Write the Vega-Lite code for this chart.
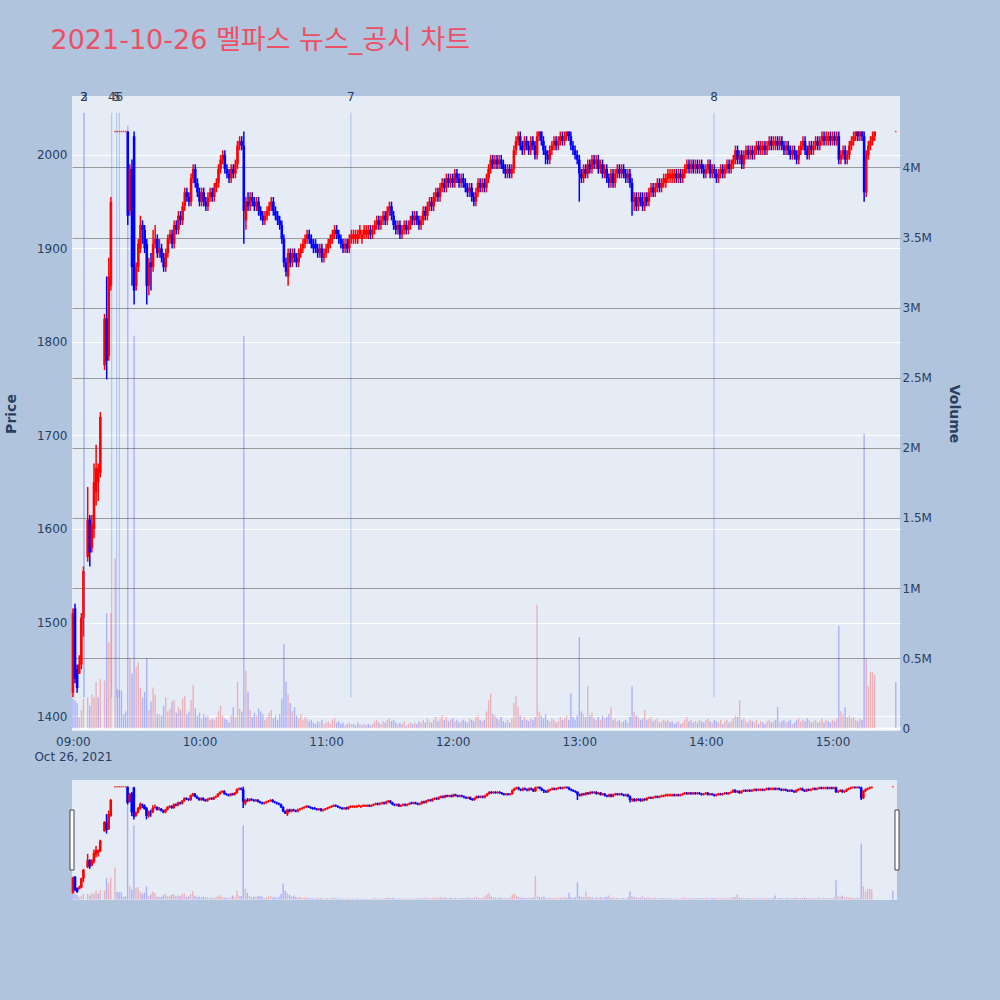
{
  "$schema": "https://vega.github.io/schema/vega-lite/v6.json",
  "background": "#B0C4DE",
  "padding": {"left": 4, "top": 26, "right": 45, "bottom": 102},
  "title": {"text": "2021-10-26 멜파스 뉴스_공시 차트", "anchor": "start", "frame": "bounds", "dx": 46, "fontSize": 27, "font": "DejaVu Sans, Noto Sans CJK KR", "fontWeight": "normal", "color": "#EC5064", "baseline": "alphabetic", "offset": 15},
  "config": {
    "view": {"fill": "#E5ECF6", "stroke": null},
    "font": "DejaVu Sans",
    "axis": {"labelColor": "#2a3f5f", "titleColor": "#2a3f5f", "labelFontSize": 12, "labelFont": "DejaVu Sans", "titleFont": "DejaVu Sans", "domain": false, "ticks": false}
  },
  "data": {
    "values": "t,o,h,l,c,v\n2021-10-26 09:00,1425,1515,1420,1510,210000\n2021-10-26 09:01,1515,1520,1435,1440,200000\n2021-10-26 09:02,1450,1455,1425,1430,180000\n2021-10-26 09:03,1445,1465,1445,1455,80000\n2021-10-26 09:04,1455,1510,1450,1505,130000\n2021-10-26 09:05,1505,1560,1485,1555,210000\n2021-10-26 09:07,1570,1645,1565,1610,220000\n2021-10-26 09:08,1610,1615,1560,1575,160000\n2021-10-26 09:09,1580,1615,1575,1605,240000\n2021-10-26 09:10,1600,1670,1590,1650,220000\n2021-10-26 09:11,1640,1690,1625,1665,330000\n2021-10-26 09:12,1650,1670,1630,1665,220000\n2021-10-26 09:13,1660,1725,1655,1720,350000\n2021-10-26 09:15,1775,1830,1770,1825,340000\n2021-10-26 09:16,1825,1870,1760,1780,820000\n2021-10-26 09:17,1785,1890,1780,1870,610000\n2021-10-26 09:18,1860,1955,1855,1950,820000\n2021-10-26 09:20,2025,2025,2025,2025,1210000\n2021-10-26 09:21,2025,2025,2025,2025,280000\n2021-10-26 09:22,2025,2025,2025,2025,270000\n2021-10-26 09:23,2025,2025,2025,2025,270000\n2021-10-26 09:24,2025,2025,2025,2025,100000\n2021-10-26 09:25,2025,2025,2025,2025,120000\n2021-10-26 09:26,2025,2025,1925,1935,4300000\n2021-10-26 09:27,1940,1990,1935,1985,500000\n2021-10-26 09:28,1985,1995,1860,1880,390000\n2021-10-26 09:29,2020,2025,1840,1855,2800000\n2021-10-26 09:30,1860,1885,1855,1880,440000\n2021-10-26 09:31,1880,1910,1875,1905,470000\n2021-10-26 09:32,1900,1935,1895,1925,290000\n2021-10-26 09:33,1925,1930,1905,1920,220000\n2021-10-26 09:34,1920,1925,1895,1900,260000\n2021-10-26 09:35,1905,1910,1840,1860,500000\n2021-10-26 09:36,1860,1890,1850,1885,130000\n2021-10-26 09:37,1885,1895,1855,1880,190000\n2021-10-26 09:38,1880,1920,1875,1905,290000\n2021-10-26 09:39,1905,1925,1900,1910,240000\n2021-10-26 09:40,1910,1915,1890,1895,100000\n2021-10-26 09:41,1895,1910,1890,1900,100000\n2021-10-26 09:42,1900,1905,1885,1890,90000\n2021-10-26 09:43,1890,1895,1875,1880,160000\n2021-10-26 09:44,1880,1900,1875,1895,220000\n2021-10-26 09:45,1895,1915,1890,1910,120000\n2021-10-26 09:46,1910,1920,1905,1915,140000\n2021-10-26 09:47,1915,1920,1900,1905,190000\n2021-10-26 09:48,1905,1930,1900,1925,200000\n2021-10-26 09:49,1925,1930,1915,1920,110000\n2021-10-26 09:50,1920,1940,1915,1935,150000\n2021-10-26 09:51,1935,1940,1925,1930,130000\n2021-10-26 09:52,1930,1950,1925,1945,210000\n2021-10-26 09:53,1945,1965,1940,1960,230000\n2021-10-26 09:54,1960,1965,1950,1955,100000\n2021-10-26 09:55,1955,1960,1945,1950,120000\n2021-10-26 09:56,1950,1980,1945,1975,200000\n2021-10-26 09:57,1975,1990,1970,1985,310000\n2021-10-26 09:58,1985,1990,1965,1970,140000\n2021-10-26 09:59,1970,1975,1955,1960,90000\n2021-10-26 10:00,1960,1965,1945,1950,110000\n2021-10-26 10:01,1950,1965,1945,1960,70000\n2021-10-26 10:02,1960,1965,1945,1950,100000\n2021-10-26 10:03,1950,1955,1940,1945,80000\n2021-10-26 10:04,1945,1960,1940,1955,90000\n2021-10-26 10:05,1955,1965,1950,1960,60000\n2021-10-26 10:06,1960,1965,1950,1955,70000\n2021-10-26 10:07,1955,1970,1950,1965,60000\n2021-10-26 10:08,1965,1975,1960,1970,80000\n2021-10-26 10:09,1970,1990,1965,1985,120000\n2021-10-26 10:10,1985,2000,1980,1995,160000\n2021-10-26 10:11,1995,2005,1990,2000,90000\n2021-10-26 10:12,2000,2005,1980,1985,70000\n2021-10-26 10:13,1985,1990,1975,1980,60000\n2021-10-26 10:14,1980,1985,1970,1975,40000\n2021-10-26 10:15,1975,1990,1970,1985,90000\n2021-10-26 10:16,1985,1990,1975,1980,150000\n2021-10-26 10:17,1980,1995,1975,1990,80000\n2021-10-26 10:18,1990,2015,1985,2010,330000\n2021-10-26 10:19,2010,2020,2005,2015,140000\n2021-10-26 10:20,2015,2020,2005,2010,120000\n2021-10-26 10:21,2010,2025,1905,1940,2800000\n2021-10-26 10:22,1930,1955,1920,1950,410000\n2021-10-26 10:23,1950,1960,1940,1945,260000\n2021-10-26 10:24,1945,1960,1940,1955,130000\n2021-10-26 10:25,1955,1960,1945,1950,80000\n2021-10-26 10:26,1950,1955,1940,1945,110000\n2021-10-26 10:27,1945,1955,1940,1950,90000\n2021-10-26 10:28,1950,1955,1935,1940,140000\n2021-10-26 10:29,1940,1945,1930,1935,120000\n2021-10-26 10:30,1935,1940,1925,1930,100000\n2021-10-26 10:31,1930,1940,1925,1935,60000\n2021-10-26 10:32,1935,1945,1930,1940,80000\n2021-10-26 10:33,1940,1950,1935,1945,110000\n2021-10-26 10:34,1945,1955,1940,1950,130000\n2021-10-26 10:35,1950,1955,1935,1940,70000\n2021-10-26 10:36,1940,1945,1930,1935,90000\n2021-10-26 10:37,1935,1940,1925,1930,60000\n2021-10-26 10:38,1930,1935,1920,1925,100000\n2021-10-26 10:39,1925,1930,1905,1910,210000\n2021-10-26 10:40,1910,1915,1880,1885,600000\n2021-10-26 10:41,1885,1890,1870,1875,330000\n2021-10-26 10:42,1870,1900,1860,1895,240000\n2021-10-26 10:43,1895,1900,1880,1885,180000\n2021-10-26 10:44,1885,1900,1880,1895,120000\n2021-10-26 10:45,1895,1900,1885,1890,150000\n2021-10-26 10:46,1890,1895,1880,1885,90000\n2021-10-26 10:47,1885,1900,1880,1895,70000\n2021-10-26 10:48,1895,1905,1890,1900,100000\n2021-10-26 10:49,1900,1910,1895,1905,60000\n2021-10-26 10:50,1905,1915,1900,1910,80000\n2021-10-26 10:51,1910,1920,1905,1915,70000\n2021-10-26 10:52,1915,1920,1905,1910,50000\n2021-10-26 10:53,1910,1915,1900,1905,60000\n2021-10-26 10:54,1905,1910,1895,1900,40000\n2021-10-26 10:55,1905,1910,1895,1900,30000\n2021-10-26 10:56,1900,1905,1890,1895,50000\n2021-10-26 10:57,1895,1905,1890,1900,40000\n2021-10-26 10:58,1900,1905,1885,1890,60000\n2021-10-26 10:59,1890,1900,1885,1895,30000\n2021-10-26 11:00,1895,1905,1890,1900,40000\n2021-10-26 11:01,1900,1910,1895,1905,50000\n2021-10-26 11:02,1905,1915,1900,1910,30000\n2021-10-26 11:03,1910,1920,1905,1915,60000\n2021-10-26 11:04,1915,1925,1910,1920,70000\n2021-10-26 11:05,1920,1925,1910,1915,40000\n2021-10-26 11:06,1915,1920,1905,1910,50000\n2021-10-26 11:07,1910,1915,1900,1905,30000\n2021-10-26 11:08,1905,1910,1895,1900,40000\n2021-10-26 11:09,1900,1910,1895,1905,20000\n2021-10-26 11:10,1905,1910,1895,1900,30000\n2021-10-26 11:11,1900,1915,1895,1910,40000\n2021-10-26 11:12,1910,1920,1905,1915,30000\n2021-10-26 11:13,1910,1920,1905,1915,30000\n2021-10-26 11:14,1910,1920,1905,1915,20000\n2021-10-26 11:15,1910,1920,1905,1915,40000\n2021-10-26 11:16,1915,1925,1910,1920,30000\n2021-10-26 11:17,1910,1920,1905,1915,20000\n2021-10-26 11:18,1915,1925,1910,1920,30000\n2021-10-26 11:19,1915,1925,1910,1920,20000\n2021-10-26 11:20,1915,1925,1910,1920,30000\n2021-10-26 11:21,1920,1925,1910,1915,20000\n2021-10-26 11:22,1915,1925,1910,1920,30000\n2021-10-26 11:23,1920,1930,1915,1925,50000\n2021-10-26 11:24,1925,1935,1920,1930,60000\n2021-10-26 11:25,1930,1935,1920,1925,40000\n2021-10-26 11:26,1925,1935,1920,1930,30000\n2021-10-26 11:27,1930,1940,1925,1935,50000\n2021-10-26 11:28,1935,1940,1925,1930,40000\n2021-10-26 11:29,1930,1945,1925,1940,60000\n2021-10-26 11:30,1940,1950,1935,1945,70000\n2021-10-26 11:31,1945,1950,1930,1935,50000\n2021-10-26 11:32,1935,1940,1920,1925,60000\n2021-10-26 11:33,1925,1930,1915,1920,40000\n2021-10-26 11:34,1920,1930,1915,1925,30000\n2021-10-26 11:35,1925,1930,1910,1915,40000\n2021-10-26 11:36,1915,1925,1910,1920,30000\n2021-10-26 11:37,1920,1930,1915,1925,50000\n2021-10-26 11:38,1925,1930,1915,1920,20000\n2021-10-26 11:39,1920,1930,1915,1925,30000\n2021-10-26 11:40,1925,1935,1920,1930,40000\n2021-10-26 11:41,1935,1940,1925,1930,30000\n2021-10-26 11:42,1930,1940,1925,1935,40000\n2021-10-26 11:43,1935,1940,1925,1930,30000\n2021-10-26 11:44,1930,1935,1920,1925,50000\n2021-10-26 11:45,1925,1935,1920,1930,40000\n2021-10-26 11:46,1930,1945,1925,1940,60000\n2021-10-26 11:47,1940,1945,1930,1935,40000\n2021-10-26 11:48,1935,1950,1930,1945,70000\n2021-10-26 11:49,1945,1955,1940,1950,50000\n2021-10-26 11:50,1950,1955,1940,1945,40000\n2021-10-26 11:51,1945,1960,1940,1955,60000\n2021-10-26 11:52,1955,1965,1950,1960,80000\n2021-10-26 11:53,1960,1965,1950,1955,50000\n2021-10-26 11:54,1955,1970,1950,1965,70000\n2021-10-26 11:55,1965,1975,1960,1970,90000\n2021-10-26 11:56,1970,1975,1960,1965,60000\n2021-10-26 11:57,1965,1980,1960,1975,80000\n2021-10-26 11:58,1975,1980,1965,1970,50000\n2021-10-26 11:59,1970,1980,1965,1975,60000\n2021-10-26 12:00,1975,1980,1965,1970,70000\n2021-10-26 12:01,1970,1985,1965,1980,50000\n2021-10-26 12:02,1980,1985,1970,1975,60000\n2021-10-26 12:03,1975,1980,1965,1970,40000\n2021-10-26 12:04,1970,1980,1965,1975,50000\n2021-10-26 12:05,1975,1980,1965,1970,60000\n2021-10-26 12:06,1970,1975,1960,1965,50000\n2021-10-26 12:07,1965,1970,1955,1960,40000\n2021-10-26 12:08,1960,1970,1955,1965,70000\n2021-10-26 12:09,1965,1970,1950,1955,60000\n2021-10-26 12:10,1955,1960,1945,1950,50000\n2021-10-26 12:11,1950,1965,1945,1960,80000\n2021-10-26 12:12,1960,1975,1955,1970,90000\n2021-10-26 12:13,1970,1975,1960,1965,60000\n2021-10-26 12:14,1965,1975,1960,1970,50000\n2021-10-26 12:15,1970,1975,1960,1965,60000\n2021-10-26 12:16,1965,1980,1960,1975,120000\n2021-10-26 12:17,1975,1990,1970,1985,200000\n2021-10-26 12:18,1985,2000,1980,1995,250000\n2021-10-26 12:19,1995,2000,1985,1990,100000\n2021-10-26 12:20,1990,2000,1985,1995,90000\n2021-10-26 12:21,1995,2000,1985,1990,70000\n2021-10-26 12:22,1990,2000,1985,1995,60000\n2021-10-26 12:23,1995,2000,1985,1990,80000\n2021-10-26 12:24,1990,1995,1980,1985,50000\n2021-10-26 12:25,1985,1990,1975,1980,40000\n2021-10-26 12:26,1980,1990,1975,1985,60000\n2021-10-26 12:27,1985,1990,1975,1980,40000\n2021-10-26 12:28,1980,1990,1975,1985,70000\n2021-10-26 12:29,1985,2010,1980,2005,180000\n2021-10-26 12:30,2005,2020,2000,2015,230000\n2021-10-26 12:31,2015,2025,2010,2020,150000\n2021-10-26 12:32,2020,2025,2005,2010,90000\n2021-10-26 12:33,2010,2015,2000,2005,60000\n2021-10-26 12:34,2005,2020,2000,2015,80000\n2021-10-26 12:35,2015,2020,2005,2010,60000\n2021-10-26 12:36,2010,2015,2000,2005,50000\n2021-10-26 12:37,2005,2020,2000,2015,70000\n2021-10-26 12:38,2015,2020,2005,2010,60000\n2021-10-26 12:39,2010,2015,1995,2000,80000\n2021-10-26 12:40,2000,2025,1995,2020,880000\n2021-10-26 12:41,2020,2025,2015,2025,120000\n2021-10-26 12:42,2025,2025,2010,2015,90000\n2021-10-26 12:43,2015,2020,2000,2005,70000\n2021-10-26 12:44,2005,2010,1990,2000,100000\n2021-10-26 12:45,2000,2005,1990,1995,60000\n2021-10-26 12:46,1995,2010,1990,2005,50000\n2021-10-26 12:47,2005,2015,2000,2010,70000\n2021-10-26 12:48,2010,2020,2005,2015,60000\n2021-10-26 12:49,2015,2020,2005,2010,40000\n2021-10-26 12:50,2010,2020,2005,2015,50000\n2021-10-26 12:51,2015,2025,2010,2020,80000\n2021-10-26 12:52,2020,2025,2010,2015,60000\n2021-10-26 12:53,2015,2025,2010,2020,70000\n2021-10-26 12:54,2020,2025,2015,2025,90000\n2021-10-26 12:55,2025,2025,2015,2020,60000\n2021-10-26 12:56,2020,2025,2005,2010,250000\n2021-10-26 12:57,2010,2015,2000,2005,80000\n2021-10-26 12:58,2005,2010,1995,2000,60000\n2021-10-26 12:59,2000,2005,1990,1995,90000\n2021-10-26 13:00,1995,2000,1950,1980,650000\n2021-10-26 13:01,1980,1985,1970,1975,120000\n2021-10-26 13:02,1975,1990,1970,1985,100000\n2021-10-26 13:03,1985,1990,1975,1980,80000\n2021-10-26 13:04,1980,1995,1975,1990,300000\n2021-10-26 13:05,1990,1995,1980,1985,90000\n2021-10-26 13:06,1985,2000,1980,1995,110000\n2021-10-26 13:07,1995,2000,1985,1990,70000\n2021-10-26 13:08,1990,2000,1985,1995,60000\n2021-10-26 13:09,1995,2000,1980,1985,80000\n2021-10-26 13:10,1985,1995,1980,1990,60000\n2021-10-26 13:11,1990,1995,1975,1980,90000\n2021-10-26 13:12,1980,1990,1975,1985,70000\n2021-10-26 13:13,1985,1990,1970,1975,80000\n2021-10-26 13:14,1975,1980,1965,1970,100000\n2021-10-26 13:15,1970,1985,1965,1980,150000\n2021-10-26 13:16,1980,1985,1965,1970,60000\n2021-10-26 13:17,1970,1985,1965,1980,70000\n2021-10-26 13:18,1980,1990,1975,1985,50000\n2021-10-26 13:19,1985,1990,1975,1980,60000\n2021-10-26 13:20,1980,1990,1975,1985,40000\n2021-10-26 13:21,1985,1990,1975,1980,50000\n2021-10-26 13:22,1980,1985,1970,1975,60000\n2021-10-26 13:23,1975,1985,1970,1980,40000\n2021-10-26 13:24,1980,1985,1965,1970,80000\n2021-10-26 13:25,1970,1975,1935,1950,300000\n2021-10-26 13:26,1950,1960,1940,1955,120000\n2021-10-26 13:27,1955,1960,1940,1945,90000\n2021-10-26 13:28,1945,1960,1940,1955,80000\n2021-10-26 13:29,1955,1960,1945,1950,60000\n2021-10-26 13:30,1950,1960,1940,1945,70000\n2021-10-26 13:31,1945,1960,1940,1955,130000\n2021-10-26 13:32,1955,1960,1945,1950,60000\n2021-10-26 13:33,1950,1965,1945,1960,70000\n2021-10-26 13:34,1960,1970,1955,1965,80000\n2021-10-26 13:35,1965,1970,1955,1960,50000\n2021-10-26 13:36,1960,1970,1955,1965,60000\n2021-10-26 13:37,1965,1975,1960,1970,70000\n2021-10-26 13:38,1970,1975,1960,1965,40000\n2021-10-26 13:39,1965,1975,1960,1970,50000\n2021-10-26 13:40,1970,1980,1965,1975,60000\n2021-10-26 13:41,1970,1980,1965,1975,50000\n2021-10-26 13:42,1975,1985,1970,1980,60000\n2021-10-26 13:43,1975,1985,1970,1980,40000\n2021-10-26 13:44,1975,1985,1970,1980,50000\n2021-10-26 13:45,1975,1985,1970,1980,30000\n2021-10-26 13:46,1980,1985,1970,1975,40000\n2021-10-26 13:47,1975,1985,1970,1980,50000\n2021-10-26 13:48,1980,1985,1970,1975,30000\n2021-10-26 13:49,1975,1985,1970,1980,40000\n2021-10-26 13:50,1980,1990,1975,1985,60000\n2021-10-26 13:51,1985,1995,1980,1990,80000\n2021-10-26 13:52,1990,1995,1980,1985,50000\n2021-10-26 13:53,1985,1995,1980,1990,60000\n2021-10-26 13:54,1990,1995,1980,1985,40000\n2021-10-26 13:55,1985,1995,1980,1990,50000\n2021-10-26 13:56,1990,1995,1980,1985,40000\n2021-10-26 13:57,1985,1995,1980,1990,60000\n2021-10-26 13:58,1990,1995,1980,1985,50000\n2021-10-26 13:59,1985,1990,1975,1980,40000\n2021-10-26 14:00,1980,1990,1975,1985,60000\n2021-10-26 14:01,1985,1995,1980,1990,70000\n2021-10-26 14:02,1990,1995,1975,1980,50000\n2021-10-26 14:03,1980,1990,1975,1985,40000\n2021-10-26 14:04,1985,1990,1975,1980,60000\n2021-10-26 14:05,1980,1985,1970,1975,50000\n2021-10-26 14:06,1975,1985,1970,1980,40000\n2021-10-26 14:07,1980,1990,1975,1985,60000\n2021-10-26 14:08,1985,1990,1975,1980,30000\n2021-10-26 14:09,1980,1990,1975,1985,50000\n2021-10-26 14:10,1985,1995,1980,1990,60000\n2021-10-26 14:11,1990,1995,1980,1985,40000\n2021-10-26 14:12,1985,1995,1980,1990,50000\n2021-10-26 14:13,1990,2000,1985,1995,70000\n2021-10-26 14:14,1995,2010,1990,2005,90000\n2021-10-26 14:15,2005,2010,1990,1995,80000\n2021-10-26 14:16,1995,2005,1990,2000,200000\n2021-10-26 14:17,2000,2005,1985,1990,60000\n2021-10-26 14:18,1990,2005,1985,2000,70000\n2021-10-26 14:19,2000,2010,1995,2005,50000\n2021-10-26 14:20,2005,2010,1995,2000,40000\n2021-10-26 14:21,2000,2010,1995,2005,60000\n2021-10-26 14:22,2005,2010,1995,2000,50000\n2021-10-26 14:23,2000,2010,1995,2005,40000\n2021-10-26 14:24,2005,2015,2000,2010,60000\n2021-10-26 14:25,2010,2015,2000,2005,30000\n2021-10-26 14:26,2005,2015,2000,2010,50000\n2021-10-26 14:27,2005,2015,2000,2010,40000\n2021-10-26 14:28,2010,2015,2000,2005,30000\n2021-10-26 14:29,2005,2015,2000,2010,50000\n2021-10-26 14:30,2010,2020,2005,2015,60000\n2021-10-26 14:31,2015,2020,2005,2010,40000\n2021-10-26 14:32,2010,2020,2005,2015,50000\n2021-10-26 14:33,2010,2020,2005,2015,60000\n2021-10-26 14:34,2015,2020,2005,2010,150000\n2021-10-26 14:35,2010,2020,2005,2015,40000\n2021-10-26 14:36,2015,2020,2005,2010,50000\n2021-10-26 14:37,2010,2015,2000,2005,60000\n2021-10-26 14:38,2005,2015,2000,2010,40000\n2021-10-26 14:39,2010,2015,2000,2005,50000\n2021-10-26 14:40,2005,2010,1995,2000,60000\n2021-10-26 14:41,2000,2010,1995,2005,30000\n2021-10-26 14:42,2005,2010,1995,2000,40000\n2021-10-26 14:43,2000,2005,1990,1995,60000\n2021-10-26 14:44,1995,2010,1990,2005,70000\n2021-10-26 14:45,2005,2015,2000,2010,50000\n2021-10-26 14:46,2010,2020,2005,2015,60000\n2021-10-26 14:47,2015,2020,2000,2005,50000\n2021-10-26 14:48,2005,2010,1995,2000,70000\n2021-10-26 14:49,2000,2015,1995,2010,60000\n2021-10-26 14:50,2010,2015,2000,2005,40000\n2021-10-26 14:51,2005,2015,2000,2010,50000\n2021-10-26 14:52,2010,2020,2005,2015,60000\n2021-10-26 14:53,2015,2020,2005,2010,40000\n2021-10-26 14:54,2010,2020,2005,2015,50000\n2021-10-26 14:55,2015,2025,2010,2020,70000\n2021-10-26 14:56,2020,2025,2010,2015,40000\n2021-10-26 14:57,2015,2025,2010,2020,60000\n2021-10-26 14:58,2015,2025,2010,2020,50000\n2021-10-26 14:59,2020,2025,2010,2015,40000\n2021-10-26 15:00,2015,2025,2010,2020,60000\n2021-10-26 15:01,2020,2025,2010,2015,50000\n2021-10-26 15:02,2015,2025,2010,2020,70000\n2021-10-26 15:03,2020,2025,1990,1995,730000\n2021-10-26 15:04,1995,2005,1990,2000,120000\n2021-10-26 15:05,2000,2010,1995,2005,100000\n2021-10-26 15:06,2005,2010,1990,1995,150000\n2021-10-26 15:07,1995,2005,1990,2000,80000\n2021-10-26 15:08,2000,2015,1995,2010,90000\n2021-10-26 15:09,2010,2020,2005,2015,70000\n2021-10-26 15:10,2015,2025,2010,2020,80000\n2021-10-26 15:11,2020,2025,2015,2025,60000\n2021-10-26 15:12,2025,2025,2015,2020,50000\n2021-10-26 15:13,2020,2025,2015,2025,70000\n2021-10-26 15:14,2025,2025,2015,2020,60000\n2021-10-26 15:15,2020,2025,1950,1960,2100000\n2021-10-26 15:16,1960,2005,1955,2000,500000\n2021-10-26 15:17,2000,2015,1995,2010,300000\n2021-10-26 15:18,2010,2020,2005,2015,400000\n2021-10-26 15:19,2015,2025,2010,2020,400000\n2021-10-26 15:20,2020,2025,2015,2025,380000\n2021-10-26 15:30,2025,2025,2025,2025,330000",
    "format": {"type": "csv", "parse": {"t": "date", "o": "number", "h": "number", "l": "number", "c": "number", "v": "number"}}
  },
  "spacing": 18,
  "vconcat": [
    {
      "width": 828,
      "height": 635,
      "layer": [
        {
          "transform": [{"window": [{"op": "lag", "field": "c", "as": "pc"}], "sort": [{"field": "t", "order": "ascending"}]}],
          "mark": {"type": "bar", "width": 1.4, "opacity": 0.25},
          "encoding": {
            "x": {"field": "t", "type": "temporal", "title": null,
              "scale": {"domain": [{"year": 2021, "month": 10, "date": 26, "hours": 8, "minutes": 59, "seconds": 34}, {"year": 2021, "month": 10, "date": 26, "hours": 15, "minutes": 32}], "nice": false, "padding": 0},
              "axis": {"values": [{"year": 2021, "month": 10, "date": 26, "hours": 9}, {"year": 2021, "month": 10, "date": 26, "hours": 10}, {"year": 2021, "month": 10, "date": 26, "hours": 11}, {"year": 2021, "month": 10, "date": 26, "hours": 12}, {"year": 2021, "month": 10, "date": 26, "hours": 13}, {"year": 2021, "month": 10, "date": 26, "hours": 14}, {"year": 2021, "month": 10, "date": 26, "hours": 15}],
                "labelExpr": "hours(datum.value) == 9 ? [timeFormat(datum.value, '%H:%M'), timeFormat(datum.value, '%b %d, %Y')] : timeFormat(datum.value, '%H:%M')",
                "labelFlush": false, "labelOverlap": false, "labelPadding": 5, "labelLineHeight": 15, "grid": false}},
            "y": {"field": "v", "type": "quantitative", "title": "Volume",
              "scale": {"domain": [-20000, 4510000], "nice": false, "zero": false, "padding": 0},
              "axis": {"orient": "right", "values": [0, 500000, 1000000, 1500000, 2000000, 2500000, 3000000, 3500000, 4000000],
                "labelExpr": "datum.value == 0 ? '0' : format(datum.value / 1000000, '~g') + 'M'",
                "labelPadding": 2, "titlePadding": 15, "titleFontSize": 14, "titleFontWeight": "bold",
                "grid": true, "gridColor": {"condition": {"test": "datum.value == 0", "value": "#ffffff"}, "value": "#999999"}, "gridWidth": {"condition": {"test": "datum.value == 0", "value": 2}, "value": 1}}},
            "y2": {"datum": 0},
            "color": {"condition": {"test": "datum.pc != null && datum.c > datum.pc", "value": "#ff0000"}, "value": "#0000ff"}
          }
        },
        {
          "layer": [
            {
              "mark": {"type": "rule", "strokeWidth": 1.5},
              "encoding": {
                "x": {"field": "t", "type": "temporal", "title": null},
                "y": {"field": "l", "type": "quantitative", "title": "Price",
                  "scale": {"domain": [1384, 2063], "nice": false, "zero": false, "padding": 0},
                  "axis": {"orient": "left", "values": [1400, 1500, 1600, 1700, 1800, 1900, 2000], "format": "d", "labelPadding": 5, "titlePadding": 18, "titleFontSize": 14, "titleFontWeight": "bold", "grid": true, "gridColor": "#ffffff", "gridWidth": 1}},
                "y2": {"field": "h"},
                "color": {"condition": {"test": "datum.c >= datum.o", "value": "#ff0000"}, "value": "#0000ff"}
              }
            },
            {
              "transform": [{"filter": "datum.o != datum.c"}],
              "mark": {"type": "bar", "width": 2.6},
              "encoding": {
                "x": {"field": "t", "type": "temporal", "title": null},
                "y": {"field": "o", "type": "quantitative", "title": "Price"},
                "y2": {"field": "c"},
                "color": {"condition": {"test": "datum.c >= datum.o", "value": "#ff0000"}, "value": "#0000ff"}
              }
            },
            {
              "transform": [{"filter": "datum.o == datum.c"}],
              "mark": {"type": "tick", "orient": "horizontal", "size": 1.6, "thickness": 1.5, "color": "#ff0000"},
              "encoding": {
                "x": {"field": "t", "type": "temporal", "title": null},
                "y": {"field": "c", "type": "quantitative", "title": "Price"}
              }
            },
            {
              "data": {"values": [{"t": "2021-10-26 09:05:15", "n": "2"}, {"t": "2021-10-26 09:05:15", "n": "3"}, {"t": "2021-10-26 09:18:23", "n": "4"}, {"t": "2021-10-26 09:20:45", "n": "5"}, {"t": "2021-10-26 09:22:00", "n": "6"}, {"t": "2021-10-26 11:11:45", "n": "7"}, {"t": "2021-10-26 14:03:50", "n": "8"}], "format": {"parse": {"t": "date"}}},
              "layer": [
                {
                  "mark": {"type": "rule", "strokeWidth": 1, "color": "#4169e1", "opacity": 0.35},
                  "encoding": {
                    "x": {"field": "t", "type": "temporal", "title": null},
                    "y": {"datum": 1420, "type": "quantitative", "title": "Price"},
                    "y2": {"datum": 2045}
                  }
                },
                {
                  "mark": {"type": "text", "fontSize": 12, "color": "#2a3f5f", "baseline": "middle", "align": "center"},
                  "encoding": {
                    "x": {"field": "t", "type": "temporal", "title": null},
                    "y": {"datum": 2062, "type": "quantitative", "title": "Price"},
                    "text": {"field": "n"}
                  }
                }
              ]
            }
          ]
        }
      ],
      "resolve": {"scale": {"y": "independent"}}
    },
    {
      "width": 825,
      "height": 120,
      "layer": [
        {
          "transform": [{"window": [{"op": "lag", "field": "c", "as": "pc"}], "sort": [{"field": "t", "order": "ascending"}]}],
          "mark": {"type": "bar", "width": 1.4, "opacity": 0.25},
          "encoding": {
            "x": {"field": "t", "type": "temporal", "axis": null,
              "scale": {"domain": [{"year": 2021, "month": 10, "date": 26, "hours": 8, "minutes": 59, "seconds": 34}, {"year": 2021, "month": 10, "date": 26, "hours": 15, "minutes": 32}], "nice": false, "padding": 0}},
            "y": {"field": "v", "type": "quantitative", "axis": null, "scale": {"domain": [-20000, 4510000], "nice": false, "zero": false, "padding": 0}},
            "y2": {"datum": 0},
            "color": {"condition": {"test": "datum.pc != null && datum.c > datum.pc", "value": "#ff0000"}, "value": "#0000ff"}
          }
        },
        {
          "layer": [
            {
              "mark": {"type": "rule", "strokeWidth": 1.5},
              "encoding": {
                "x": {"field": "t", "type": "temporal", "axis": null},
                "y": {"field": "l", "type": "quantitative", "axis": null, "scale": {"domain": [1384, 2063], "nice": false, "zero": false, "padding": 0}},
                "y2": {"field": "h"},
                "color": {"condition": {"test": "datum.c >= datum.o", "value": "#ff0000"}, "value": "#0000ff"}
              }
            },
            {
              "transform": [{"filter": "datum.o != datum.c"}],
              "mark": {"type": "bar", "width": 2.6},
              "encoding": {
                "x": {"field": "t", "type": "temporal", "axis": null},
                "y": {"field": "o", "type": "quantitative", "axis": null},
                "y2": {"field": "c"},
                "color": {"condition": {"test": "datum.c >= datum.o", "value": "#ff0000"}, "value": "#0000ff"}
              }
            },
            {
              "transform": [{"filter": "datum.o == datum.c"}],
              "mark": {"type": "tick", "orient": "horizontal", "size": 1.6, "thickness": 1.5, "color": "#ff0000"},
              "encoding": {
                "x": {"field": "t", "type": "temporal", "axis": null},
                "y": {"field": "c", "type": "quantitative", "axis": null}
              }
            },
            {
              "data": {"values": [{"t": "2021-10-26 08:59:34"}, {"t": "2021-10-26 15:32:00"}], "format": {"parse": {"t": "date"}}},
              "mark": {"type": "point", "shape": "M-0.067,-1H0.067V1H-0.067Z", "size": 3600, "filled": true, "fill": "#ffffff", "stroke": "#444444", "strokeWidth": 1, "opacity": 1},
              "encoding": {
                "x": {"field": "t", "type": "temporal", "axis": null},
                "y": {"datum": 1723.5, "type": "quantitative", "axis": null}
              }
            }
          ]
        }
      ],
      "resolve": {"scale": {"y": "independent"}}
    }
  ]
}
